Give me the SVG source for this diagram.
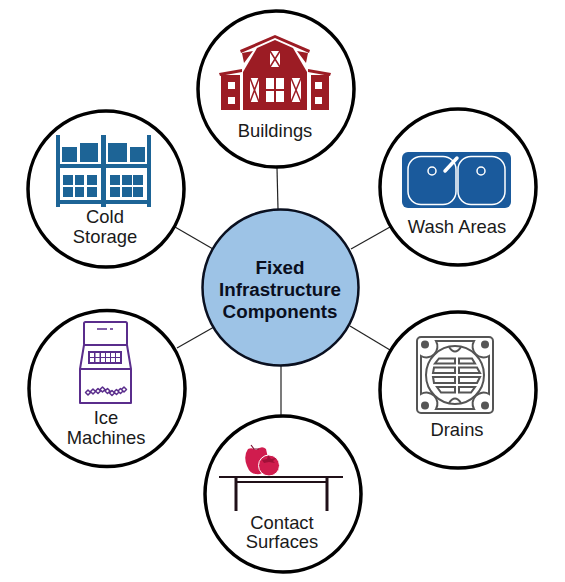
<svg xmlns="http://www.w3.org/2000/svg" width="565" height="582" viewBox="0 0 565 582">
<style>
.ring{fill:#fff;stroke:#000;stroke-width:3.5}
.t{font-family:"Liberation Sans",Arial,sans-serif;font-size:18.400px;fill:#1a1a1a;text-anchor:middle}
.b{font-weight:bold;font-size:18.800px;fill:#0a0f1e}
.c line{stroke:#222;stroke-width:1.200}
.red{fill:#9c1c24}
.blue{fill:#1d6496}
.p{fill:none;stroke:#5a2d8c;stroke-width:2;stroke-linejoin:round}
.d{fill:none;stroke:#555;stroke-width:2}
.w{fill:none;stroke:#fff}
</style>
<rect width="565" height="582" fill="#fff"/>
<g id="connectors" class="c">
<line x1="277" y1="168" x2="278" y2="209"/>
<line x1="175" y1="227" x2="213" y2="249"/>
<line x1="351" y1="249" x2="390" y2="227"/>
<line x1="177" y1="348" x2="214" y2="327"/>
<line x1="350" y1="326" x2="390" y2="350"/>
<line x1="281" y1="366" x2="281" y2="415"/>
</g>
<g id="center">
<circle cx="280.500" cy="287.500" r="78" fill="#9dc3e6" stroke="#0a1020" stroke-width="2.500"/>
<text class="t b" x="280" y="274">Fixed</text>
<text class="t b" x="280" y="296">Infrastructure</text>
<text class="t b" x="280" y="318">Components</text>
</g>
<g id="buildings">
<circle class="ring" cx="276" cy="89" r="78"/>
<path class="red" d="M240 50L275 35L310 50L309 53L275 38L241 53Z"/>
<path class="red" d="M242 53L253 51L244 63Z M308 53L297 51L306 63Z"/>
<path class="red" d="M243 110V72L257 48L275 40L293 48L307 72V110Z"/>
<path class="red" d="M219 73L242 69L242 72L220 76Z M331 73L308 69L308 72L330 76Z"/>
<rect class="red" x="221" y="75" width="19" height="35"/>
<rect class="red" x="311" y="75" width="18" height="35"/>
<g fill="#fff">
<rect x="228" y="82" width="7" height="7"/><rect x="228" y="97" width="7" height="7"/>
<rect x="315" y="82" width="7" height="7"/><rect x="315" y="97" width="7" height="7"/>
<rect x="270" y="51" width="10" height="16"/>
<rect x="250" y="78" width="9" height="24"/>
<rect x="291" y="78" width="10" height="24"/>
<rect x="266" y="78" width="8" height="11"/><rect x="276" y="78" width="8" height="11"/>
<rect x="266" y="91" width="8" height="11"/><rect x="276" y="91" width="8" height="11"/>
</g>
<path d="M270 51L280 67M280 51L270 67M250 78L259 102M259 78L250 102M291 78L301 102M301 78L291 102" stroke="#9c1c24" stroke-width="1.500" fill="none"/>
<text class="t" x="275" y="137">Buildings</text>
</g>
<g id="cold-storage">
<circle class="ring" cx="106" cy="189" r="78"/>
<g class="blue">
<rect x="56" y="135" width="4" height="72"/><rect x="101" y="135" width="5" height="72"/><rect x="147" y="135" width="4" height="72"/>
<rect x="56" y="164" width="95" height="4"/><rect x="56" y="200" width="95" height="4"/>
<rect x="62" y="147" width="15" height="15"/><rect x="80" y="143" width="18" height="19"/>
<rect x="108" y="143" width="19" height="19"/><rect x="130" y="147" width="15" height="15"/>
<rect x="63" y="175" width="10" height="10"/><rect x="75" y="175" width="9" height="10"/><rect x="87" y="175" width="10" height="10"/>
<rect x="63" y="187" width="10" height="10"/><rect x="75" y="187" width="9" height="10"/><rect x="87" y="187" width="10" height="10"/>
<rect x="110" y="175" width="10" height="10"/><rect x="122" y="175" width="10" height="10"/><rect x="133" y="175" width="10" height="10"/>
<rect x="110" y="187" width="10" height="10"/><rect x="122" y="187" width="10" height="10"/><rect x="133" y="187" width="10" height="10"/>
</g>
<text class="t" x="105" y="223">Cold</text>
<text class="t" x="105" y="243">Storage</text>
</g>
<g id="wash-areas">
<circle class="ring" cx="458" cy="187" r="78"/>
<rect x="402" y="152" width="109" height="56" rx="6" fill="#1a5a9c"/>
<rect class="w" stroke-width="1.500" x="408" y="156.500" width="48" height="48" rx="13"/>
<rect class="w" stroke-width="1.500" x="458" y="156.500" width="47" height="48" rx="13"/>
<circle class="w" stroke-width="1.500" cx="432" cy="171" r="4"/>
<circle class="w" stroke-width="1.500" cx="481" cy="171" r="4"/>
<line class="w" stroke-width="3.500" stroke-linecap="round" x1="445" y1="171" x2="457" y2="158"/>
<text class="t" x="457" y="233">Wash Areas</text>
</g>
<g id="ice-machines">
<circle class="ring" cx="107" cy="388.500" r="78"/>
<rect class="p" x="84" y="322" width="43" height="23" rx="1.500"/>
<path class="p" d="M84 345L80 369V403H131V369L127 345ZM80 369H131"/>
<rect x="88" y="351" width="34" height="13" fill="#5a2d8c"/>
<g fill="#fff">
<rect x="90" y="353" width="4" height="4"/><rect x="95.500" y="353" width="4" height="4"/><rect x="101" y="353" width="4" height="4"/><rect x="106" y="353" width="4" height="4"/><rect x="111" y="353" width="4" height="4"/><rect x="116" y="353" width="4" height="4"/>
<rect x="90" y="358" width="4" height="4"/><rect x="95.500" y="358" width="4" height="4"/><rect x="101" y="358" width="4" height="4"/><rect x="106" y="358" width="4" height="4"/><rect x="111" y="358" width="4" height="4"/><rect x="116" y="358" width="4" height="4"/>
</g>
<path stroke="#5a2d8c" stroke-width="1.500" d="M97 329H107M110 329H113"/>
<path class="p" style="stroke-width:1.500px" d="M85.500 392.500l2.500-2.500 2.500 2.500-2.500 2.500ZM90.500 391.500l2.500-2.500 2.500 2.500-2.500 2.500ZM95.500 391l2.500-2.500 2.500 2.500-2.500 2.500ZM100 389.500l2.500-2.500 2.500 2.500-2.500 2.500ZM105 391l2.500-2.500 2.500 2.500-2.500 2.500ZM109.500 393l2.500-2.500 2.500 2.500-2.500 2.500ZM114 392l2.500-2.500 2.500 2.500-2.500 2.500ZM118 391l2.500-2.500 2.500 2.500-2.500 2.500ZM121.500 389.500l2.500-2.500 2.500 2.500-2.500 2.500Z"/>
<text class="t" x="106" y="424">Ice</text>
<text class="t" x="106" y="444">Machines</text>
</g>
<g id="drains">
<circle class="ring" cx="458" cy="390" r="78"/>
<rect class="d" x="417" y="337" width="76" height="76" rx="4"/>
<path class="d" d="M436 341H474A11 11 0 0 0 489 356V394A11 11 0 0 0 474 409H436A11 11 0 0 0 421 394V356A11 11 0 0 0 436 341Z"/>
<circle class="d" cx="455" cy="375" r="29"/>
<g fill="#555"><circle cx="425" cy="344.500" r="4"/><circle cx="485" cy="344.500" r="4"/><circle cx="425" cy="405.500" r="4"/><circle cx="485" cy="405.500" r="4"/></g>
<path class="d" d="M439 358.500H455V363.500H435ZM459 358.500H472L475 363.500H459ZM434 367.500H455V373H433ZM459 367.500H477L480 373H459ZM433 377H455V383H434ZM459 377H480L477 383H459ZM437 387H455V392.500H441ZM459 387H475L471 392.500H459Z"/>
<path class="d" d="M449 347Q455 356 461 347M449 403Q455 394 461 403"/>
<text class="t" x="457" y="436">Drains</text>
</g>
<g id="contact-surfaces">
<circle class="ring" cx="283" cy="494" r="78"/>
<path fill="#d01c4e" d="M248 449Q252 447 256 450Q262 445 266 449L268 458L265 470Q262 475 256 474Q250 474 247 466Q243 456 248 449Z"/>
<path stroke="#7a1030" stroke-width="1.200" fill="none" d="M251 445L254 449L259 449"/>
<circle cx="269" cy="465.500" r="10.500" fill="#d01c4e" stroke="#fff" stroke-width="1"/>
<path fill="#a01038" d="M262 460L267 459L268 455L271 459L276 458L273 461L275 463L269 462L264 463Z"/>
<g stroke="#201018" fill="none">
<line x1="219" y1="477" x2="343" y2="477" stroke-width="2"/>
<line x1="236" y1="482" x2="327" y2="482" stroke-width="2"/>
<line x1="236" y1="477" x2="236" y2="511" stroke-width="3"/>
<line x1="327" y1="477" x2="327" y2="511" stroke-width="3"/>
</g>
<text class="t" x="282" y="529">Contact</text>
<text class="t" x="282" y="548">Surfaces</text>
</g>
</svg>
